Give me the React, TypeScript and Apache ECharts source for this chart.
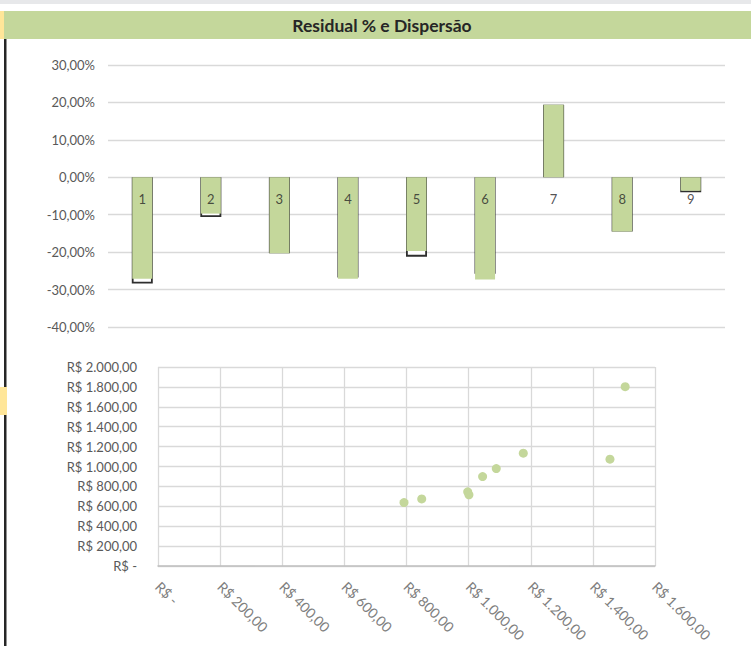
import React, { useEffect, useRef } from "react";
import * as echarts from "echarts";

const categories = ["1", "2", "3", "4", "5", "6", "7", "8", "9"];
// Residual % (green filled bars)
const residualFill = [-27.1, -9.7, -20.3, -27.1, -19.7, -27.3, 19.4, -14.5, -3.6];
// Residual % (outlined bars)
const residualOutline = [-28.4, -10.6, -20.3, -26.8, -21.2, -25.8, 19.4, -14.5, -4.0];
// Dispersion scatter
const scatterX = [792, 849, 997, 1001, 1045, 1089, 1176, 1455, 1504];
const scatterY = [637, 674, 745, 715, 899, 979, 1134, 1074, 1802];

const FONT = "Lato, 'Liberation Sans', sans-serif";
const GREEN = "#c4d79b";

function fmtPct(v: number): string {
  return v.toFixed(2).replace(".", ",") + "%";
}

function fmtMoney(v: number): string {
  if (Math.abs(v) < 1e-9) return "R$ -";
  const int = Math.round(v).toString().replace(/\B(?=(\d{3})+(?!\d))/g, ".");
  return "R$ " + int + ",00";
}

export default function App() {
  const ref = useRef<HTMLDivElement>(null);
  useEffect(() => {
    document.body.style.margin = "0";
    const chart = echarts.init(ref.current as HTMLDivElement, null, { renderer: "svg" });
    chart.setOption({
      animation: false,
      backgroundColor: "#ffffff",
      textStyle: { fontFamily: FONT },
      graphic: [
        { type: "rect", shape: { x: 0, y: 0, width: 751, height: 4 }, style: { fill: "#e7e8ea" }, silent: true },
        { type: "rect", shape: { x: 0, y: 11, width: 751, height: 28 }, style: { fill: GREEN }, silent: true },
        { type: "rect", shape: { x: 0, y: 11, width: 4, height: 28 }, style: { fill: "#ffe699" }, silent: true },
        { type: "rect", shape: { x: 4, y: 39, width: 2.5, height: 607 }, style: { fill: "#262626" }, silent: true },
        { type: "rect", shape: { x: 0, y: 387, width: 7, height: 28 }, style: { fill: "#ffe699" }, silent: true },
        {
          type: "text",
          x: 382,
          y: 25,
          silent: true,
          style: {
            text: "Residual % e Dispersão",
            fill: "#262626",
            font: "bold 17.5px " + FONT,
            align: "center",
            verticalAlign: "middle",
          },
        },
      ],
      grid: [
        { left: 108, top: 65, width: 617, height: 262 },
        { left: 158, top: 367, width: 497, height: 199 },
      ],
      xAxis: [
        {
          type: "category",
          gridIndex: 0,
          data: categories,
          axisLine: { show: false },
          axisTick: { show: false },
          axisLabel: { show: false },
          splitLine: { show: false },
        },
        {
          type: "value",
          gridIndex: 1,
          min: 0,
          max: 1600,
          interval: 200,
          axisLine: { show: true, lineStyle: { color: "#bfbfbf", width: 1.5 } },
          axisTick: { show: false },
          splitLine: { show: true, lineStyle: { color: "#d9d9d9", width: 1.3 } },
          axisLabel: {
            rotate: -45,
            margin: 18,
            formatter: fmtMoney,
            color: "#808080",
            fontSize: 14,
            fontFamily: FONT,
            hideOverlap: false,
          },
        },
        {
          type: "category",
          gridIndex: 0,
          data: categories,
          show: false,
        },
      ],
      yAxis: [
        {
          type: "value",
          gridIndex: 0,
          min: -40,
          max: 30,
          interval: 10,
          axisLine: { show: false },
          axisTick: { show: false },
          splitLine: { show: true, lineStyle: { color: "#d9d9d9", width: 1.3 } },
          axisLabel: { formatter: fmtPct, margin: 13, color: "#595959", fontSize: 13, fontFamily: FONT },
        },
        {
          type: "value",
          gridIndex: 1,
          min: 0,
          max: 2000,
          interval: 200,
          axisLine: { show: false },
          axisTick: { show: false },
          splitLine: { show: true, lineStyle: { color: "#d9d9d9", width: 1.3 } },
          axisLabel: { formatter: fmtMoney, margin: 21, color: "#595959", fontSize: 13, fontFamily: FONT },
        },
      ],
      series: [
        {
          type: "bar",
          xAxisIndex: 2,
          yAxisIndex: 0,
          data: residualOutline,
          barWidth: 21,
          itemStyle: { color: "#ffffff", borderColor: "#2e2e2e", borderWidth: 1.8 },
          z: 2,
        },
        {
          type: "bar",
          xAxisIndex: 0,
          yAxisIndex: 0,
          data: residualFill,
          barWidth: 20,
          itemStyle: { color: GREEN },
          z: 3,
        },
        {
          type: "scatter",
          xAxisIndex: 0,
          yAxisIndex: 0,
          data: categories.map((c) => [c, 0]),
          symbolSize: 1,
          itemStyle: { color: "rgba(0,0,0,0)" },
          label: {
            show: true,
            position: "bottom",
            distance: 15,
            formatter: (p: any) => categories[p.dataIndex],
            color: "#262626",
            fontSize: 13,
            fontFamily: FONT,
          },
          z: 5,
          silent: true,
        },
        {
          type: "scatter",
          xAxisIndex: 1,
          yAxisIndex: 1,
          data: scatterX.map((x, i) => [x, scatterY[i]]),
          symbolSize: 9,
          itemStyle: { color: GREEN, opacity: 1 },
        },
      ],
    });
    return () => chart.dispose();
  }, []);
  return <div ref={ref} style={{ width: 751, height: 646 }} />;
}
